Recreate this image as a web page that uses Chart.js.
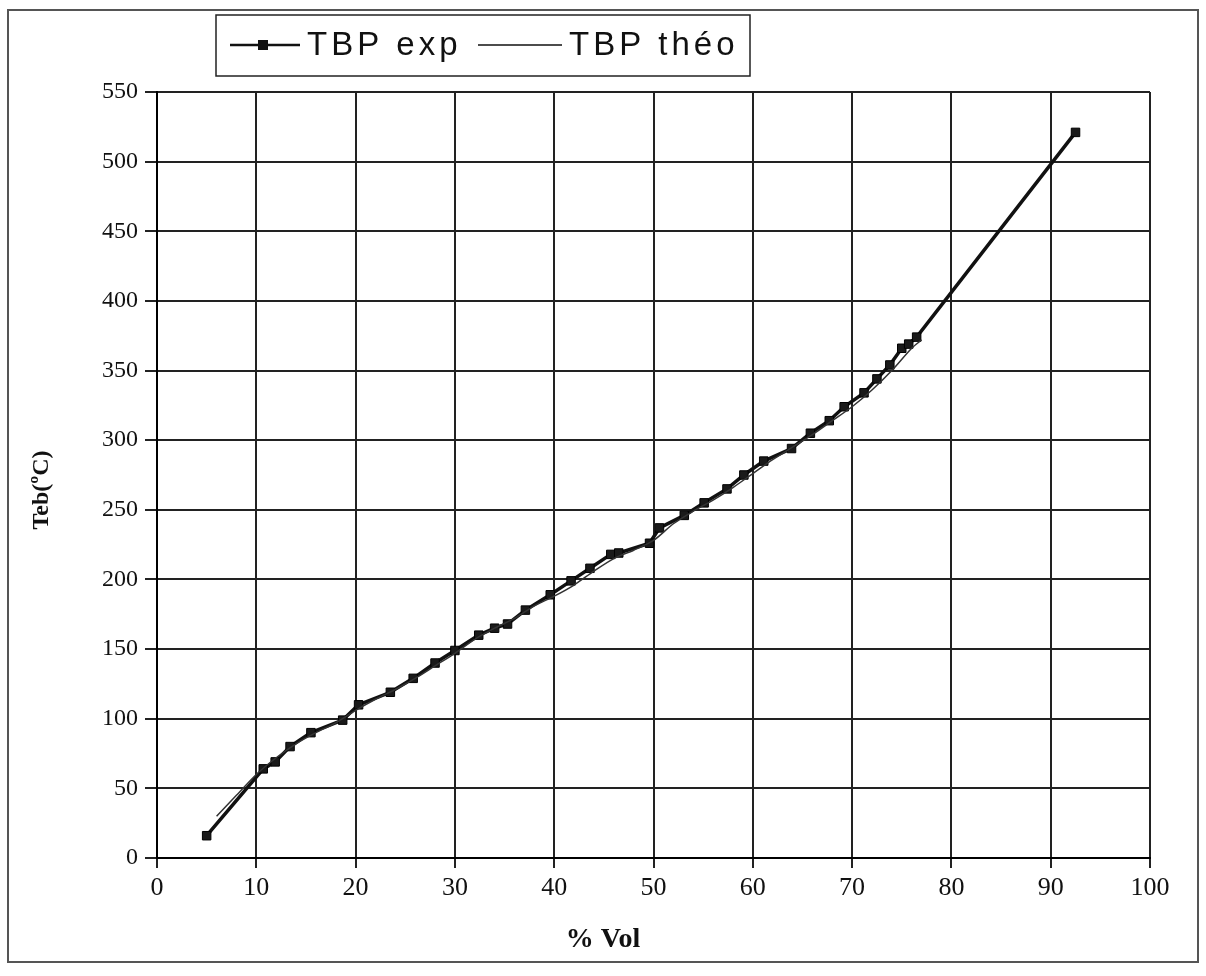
<!DOCTYPE html>
<html>
<head>
<meta charset="utf-8">
<script src="https://cdn.jsdelivr.net/npm/chart.js@4/dist/chart.umd.min.js"></script>
<style>
  html, body { margin: 0; padding: 0; background: #fff; }
  #wrap { width: 1206px; height: 976px; position: relative; }
</style>
</head>
<body>
<div id="wrap"><canvas id="tbp" width="1206" height="976"></canvas></div>
<script>
// valeurs
var expVol  = [5.0, 10.7, 11.9, 13.4, 15.5, 18.7, 20.3, 23.5, 25.8, 28.0, 30.0, 32.4, 34.0, 35.3, 37.1, 39.6, 41.7, 43.6, 45.7, 46.5, 49.6, 50.6, 53.1, 55.1, 57.4, 59.1, 61.1, 63.9, 65.8, 67.7, 69.2, 71.2, 72.5, 73.8, 75.0, 75.7, 76.5, 92.5];
var expTeb  = [16, 64, 69, 80, 90, 99, 110, 119, 129, 140, 149, 160, 165, 168, 178, 189, 199, 208, 218, 219, 226, 237, 246, 255, 265, 275, 285, 294, 305, 314, 324, 334, 344, 354, 366, 369, 374, 521];
var theoVol = [6, 8, 10, 12, 14, 16, 18, 20, 22, 24, 26, 28, 30, 32, 34, 36, 38, 40, 42, 44, 46, 48, 50, 52, 54, 56, 58, 60, 62, 64, 66, 68, 70, 72, 74, 76, 77];
var theoTeb = [30, 45, 60, 72, 82, 90, 97, 106, 114, 121, 129, 138, 147, 157, 165, 172, 181, 188, 196, 206, 215, 221, 228, 240, 249, 257, 266, 276, 286, 295, 304, 314, 324, 336, 350, 366, 372];
var xTicks = [0, 10, 20, 30, 40, 50, 60, 70, 80, 90, 100];
var yTicks = [0, 50, 100, 150, 200, 250, 300, 350, 400, 450, 500, 550];

function toPoints(xs, ys) {
    var pts = [];
    for (var i = 0; i < xs.length; i++) pts.push({ x: xs[i], y: ys[i] });
    return pts;
}

// cadre exterieur, legende encadree et titres des axes
var decor = {
    id: 'decor',
    beforeDraw: function (chart) {
        var c = chart.ctx;
        c.save();
        c.fillStyle = '#fff';
        c.fillRect(0, 0, chart.width, chart.height);
        c.strokeStyle = '#555';
        c.lineWidth = 2;
        c.strokeRect(8, 10, 1190, 952);
        c.restore();
    },
    afterDraw: function (chart) {
        var c = chart.ctx;
        c.save();
        // legende
        c.fillStyle = '#fff';
        c.fillRect(216, 15, 534, 61);
        c.strokeStyle = '#222';
        c.lineWidth = 1.5;
        c.strokeRect(216, 15, 534, 61);
        c.strokeStyle = '#111';
        c.lineWidth = 2.5;
        c.beginPath(); c.moveTo(230, 45); c.lineTo(300, 45); c.stroke();
        c.fillStyle = '#111';
        c.fillRect(258, 40, 10, 10);
        c.lineWidth = 1.5;
        c.beginPath(); c.moveTo(478, 45); c.lineTo(562, 45); c.stroke();
        c.font = '33px "Liberation Sans", Arial, sans-serif';
        c.letterSpacing = '4px';
        c.textBaseline = 'middle';
        c.fillText('TBP exp', 307, 46);
        c.fillText('TBP théo', 569, 46);
        c.letterSpacing = '0px';
        // titres
        c.font = 'bold 28px "Liberation Serif", "Times New Roman", serif';
        c.textAlign = 'center';
        c.fillText('% Vol', 603, 940);
        c.translate(42, 490);
        c.rotate(-Math.PI / 2);
        c.font = 'bold 24px "Liberation Serif", "Times New Roman", serif';
        c.fillText('Teb(ºC)', 0, 0);
        c.restore();
    }
};

var ctx = document.getElementById('tbp');
var tbpChart = new Chart(ctx, {
    type: 'scatter',
    data: {
        datasets: [{
            label: 'TBP théo',
            data: toPoints(theoVol, theoTeb),
            showLine: true,
            borderColor: '#333',
            borderWidth: 1.5,
            pointRadius: 0,
            tension: 0.3
        }, {
            label: 'TBP exp',
            data: toPoints(expVol, expTeb),
            showLine: true,
            borderColor: '#111',
            borderWidth: 3.5,
            backgroundColor: '#1a1a1a',
            pointStyle: 'rect',
            pointRadius: 6,
            pointBorderColor: '#000',
            pointBorderWidth: 1
        }]
    },
    options: {
        responsive: false,
        animation: false,
        layout: { padding: { top: 92, right: 56, left: 0, bottom: 0 } },
        plugins: { legend: { display: false }, tooltip: { enabled: false } },
        scales: {
            x: {
                type: 'linear',
                min: 0,
                max: 100,
                afterBuildTicks: function (axis) { axis.ticks = xTicks.map(function (v) { return { value: v }; }); },
                afterFit: function (axis) { axis.height = 118; },
                grid: { color: '#222', lineWidth: 2, tickLength: 10, tickColor: '#222' },
                border: { display: true, color: '#000', width: 2 },
                ticks: {
                    color: '#111',
                    padding: 5,
                    font: { family: '"Liberation Serif", "Times New Roman", serif', size: 26 }
                }
            },
            y: {
                type: 'linear',
                min: 0,
                max: 550,
                afterBuildTicks: function (axis) { axis.ticks = yTicks.map(function (v) { return { value: v }; }); },
                afterFit: function (axis) { axis.width = 157; },
                grid: { color: '#222', lineWidth: 2, tickLength: 12, tickColor: '#222' },
                border: { display: true, color: '#000', width: 2 },
                ticks: {
                    color: '#111',
                    padding: 7,
                    font: { family: '"Liberation Serif", "Times New Roman", serif', size: 24 }
                }
            }
        }
    },
    plugins: [decor]
});
</script>
</body>
</html>
